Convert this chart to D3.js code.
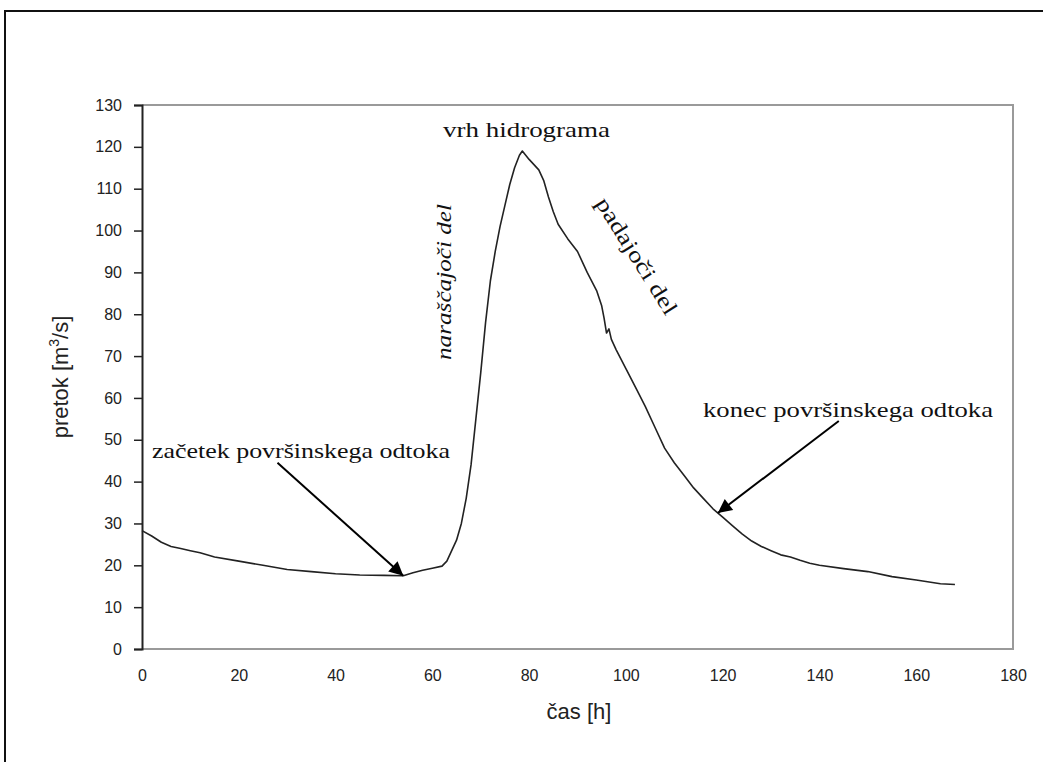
<!DOCTYPE html>
<html>
<head>
<meta charset="utf-8">
<style>
  body { margin: 0; background: #fff; }
  svg { display: block; }
</style>
</head>
<body>
<svg width="1043" height="762"></svg>
<script src="https://d3js.org/d3.v7.min.js"></script>
<script>

// hydrograph: time [h], discharge [m3/s]
var hours = [0,2,4,6,8,10,12,15,20,25,30,35,40,45,50,54,56,58,60,62,63,64,65,66,67,68,69,70,71,72,73,74,75,76,77,78,78.6,80,82,83,84,85,86,88,90,92,94,95,95.5,96,96.5,97,98,100,102,104,106,108,110,112,114,116,118,120,122,124,126,128,130,132,134,136,138,140,145,150,155,160,165,168];
var flow  = [28.3,27,25.5,24.5,24,23.5,23,22,21,20,19,18.5,18,17.7,17.6,17.5,18.2,18.8,19.3,19.8,21,23.5,26,30,36,44,55,66,78,88,95,101,106,111,115,118,119,117,114.5,112,108,104.5,101.5,98,95,90,85.5,82,79,75.5,76.5,74,71.5,67,62.5,58,53,48,44.5,41.5,38.5,36,33.5,31.5,29.5,27.5,25.8,24.5,23.5,22.5,22,21.2,20.5,20,19.2,18.5,17.3,16.5,15.6,15.4];

var xTicks = [0,20,40,60,80,100,120,140,160,180];
var yTicks = [0,10,20,30,40,50,60,70,80,90,100,110,120,130];

// arrows: [from hour, from flow] -> [to hour, to flow]
var startArrow = [[28, 44.5], [54, 17.5]];
var endArrow = [[144, 54.5], [119, 32.5]];

var svg = d3.select("svg");
var pLeft = 142, pTop = 105, pRight = 1013, pBottom = 649;

var x = d3.scaleLinear().domain([0, 180]).range([pLeft, pRight]);
var y = d3.scaleLinear().domain([0, 130]).range([pBottom, pTop]);

// outer frame (only top and left visible)
svg.append("path")
    .attr("d", "M5,762 L5,11 L1043,11")
    .attr("fill", "none")
    .attr("stroke", "#111")
    .attr("stroke-width", 2);

// plot box
svg.append("path")
    .attr("d", "M" + pLeft + "," + pTop + " L" + pRight + "," + pTop + " L" + pRight + "," + pBottom + " L" + pLeft + "," + pBottom)
    .attr("fill", "none")
    .attr("stroke", "#9a9a9a")
    .attr("stroke-width", 2);

// y axis
var yAxis = svg.append("g")
    .attr("transform", "translate(" + pLeft + ",0)")
    .call(d3.axisLeft(y).tickValues(yTicks).tickSize(8).tickPadding(12));
yAxis.select(".domain").attr("stroke", "#222").attr("stroke-width", 2);
yAxis.selectAll(".tick line").attr("stroke", "#222").attr("stroke-width", 1.5);
yAxis.selectAll("text")
    .attr("font-family", "Liberation Sans, Arial, sans-serif")
    .attr("font-size", 16)
    .attr("fill", "#222");

// x axis (labels only)
var xAxis = svg.append("g")
    .attr("transform", "translate(0," + pBottom + ")")
    .call(d3.axisBottom(x).tickValues(xTicks).tickSize(0).tickPadding(21));
xAxis.select(".domain").remove();
xAxis.selectAll("text")
    .attr("font-family", "Liberation Sans, Arial, sans-serif")
    .attr("font-size", 16)
    .attr("fill", "#222");

// axis titles
svg.append("text")
    .attr("transform", "translate(68,377) rotate(-90)")
    .attr("text-anchor", "middle")
    .attr("font-family", "Liberation Sans, Arial, sans-serif")
    .attr("font-size", 22)
    .attr("fill", "#222")
    .html('pretok [m<tspan dy="-9" font-size="14">3</tspan><tspan dy="9">/s]</tspan>');

svg.append("text")
    .attr("x", 579)
    .attr("y", 719)
    .attr("text-anchor", "middle")
    .attr("font-family", "Liberation Sans, Arial, sans-serif")
    .attr("font-size", 22)
    .attr("fill", "#222")
    .text("čas [h]");

// the hydrograph
var line = d3.line()
    .x(function(d, i) { return x(hours[i]); })
    .y(function(d) { return y(d); });

svg.append("path")
    .datum(flow)
    .attr("d", line)
    .attr("fill", "none")
    .attr("stroke", "#222")
    .attr("stroke-width", 1.6)
    .attr("stroke-linejoin", "round");

// arrow heads
svg.append("defs").append("marker")
    .attr("id", "head")
    .attr("viewBox", "0 0 10 10")
    .attr("refX", 10)
    .attr("refY", 5)
    .attr("markerWidth", 9)
    .attr("markerHeight", 7)
    .attr("markerUnits", "strokeWidth")
    .attr("orient", "auto")
    .append("path")
    .attr("d", "M0,0 L10,5 L0,10 Z")
    .attr("fill", "#000");

[startArrow, endArrow].forEach(function(a) {
    svg.append("line")
        .attr("x1", x(a[0][0]))
        .attr("y1", y(a[0][1]))
        .attr("x2", x(a[1][0]))
        .attr("y2", y(a[1][1]))
        .attr("stroke", "#000")
        .attr("stroke-width", 2)
        .attr("marker-end", "url(#head)");
});

// annotations
var serif = "Liberation Serif, Times New Roman, serif";

function note(t, width) {
    return t.attr("font-family", serif)
        .attr("font-size", 22)
        .attr("fill", "#111")
        .attr("textLength", width)
        .attr("lengthAdjust", "spacingAndGlyphs");
}

note(svg.append("text").attr("x", 152).attr("y", 458), 298)
    .text("začetek površinskega odtoka");

note(svg.append("text").attr("x", 703).attr("y", 417), 290)
    .text("konec površinskega odtoka");

note(svg.append("text").attr("x", 443).attr("y", 137), 167)
    .text("vrh hidrograma");

note(svg.append("text").attr("transform", "translate(451,360) rotate(-90)"), 156)
    .attr("font-style", "italic")
    .text("naraščajoči del");

note(svg.append("text").attr("transform", "translate(595,203) rotate(58)"), 134)
    .text("padajoči del");

</script>
</body>
</html>
